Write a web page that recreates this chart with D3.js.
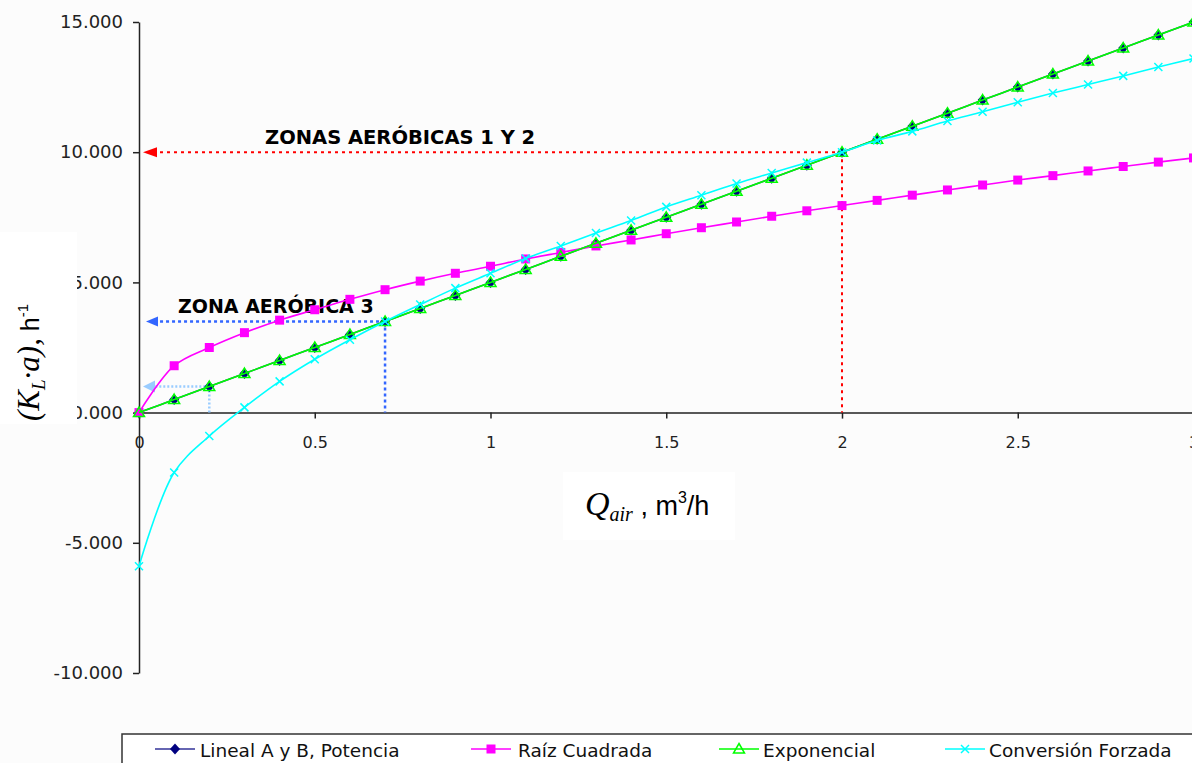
<!DOCTYPE html>
<html><head><meta charset="utf-8">
<script src="https://cdn.jsdelivr.net/npm/d3@7"></script>
<style>html,body{margin:0;padding:0;background:#fcfcfc;overflow:hidden}</style>
</head><body><svg id="c" width="1192" height="763"></svg>
<script>
// ---- data ----
const qAir = [0,0.1,0.2,0.3,0.4,0.5,0.6,0.7,0.8,0.9,1.0,1.1,1.2,1.3,1.4,1.5,1.6,1.7,1.8,1.9,2.0,2.1,2.2,2.3,2.4,2.5,2.6,2.7,2.8,2.9,3.0];
const lineal = [0,0.5,1,1.5,2,2.5,3,3.5,4,4.5,5,5.5,6,6.5,7,7.5,8,8.5,9,9.5,10,10.5,11,11.5,12,12.5,13,13.5,14,14.5,15];
const raiz = [0,1.8,2.5,3.07,3.55,3.95,4.35,4.72,5.05,5.35,5.62,5.9,6.15,6.4,6.63,6.87,7.1,7.32,7.54,7.75,7.95,8.15,8.35,8.55,8.74,8.93,9.1,9.28,9.45,9.62,9.78];
const exponencial = [0,0.5,1,1.5,2,2.5,3,3.5,4,4.5,5,5.5,6,6.5,7,7.5,8,8.5,9,9.5,10,10.5,11,11.5,12,12.5,13,13.5,14,14.5,15];
const conversion = [-5.9,-2.3,-0.9,0.2,1.2,2.05,2.8,3.5,4.15,4.78,5.35,5.92,6.4,6.9,7.38,7.9,8.35,8.8,9.2,9.6,10.0,10.45,10.8,11.2,11.55,11.92,12.27,12.6,12.93,13.27,13.6];
const yTicks = [-10,-5,0,5,10,15];
const yTickLabels = ["-10.000","-5.000","0.000","5.000","10.000","15.000"];
const xTicks = [0,0.5,1,1.5,2,2.5,3];
const xTickLabels = ["0","0.5","1","1.5","2","2.5","3"];
const seriesNames = ["Lineal A y B, Potencia","Raíz Cuadrada","Exponencial","Conversión Forzada"];
const zoneLabels = ["ZONAS AERÓBICAS 1 Y 2","ZONA AERÓBICA 3"];
const zoneX = [2, 0.7, 0.2];
const zoneY = [10, 3.5, 1.0];

// ---- setup ----
const svg = d3.select("#c");
const x = d3.scaleLinear().domain([0,3]).range([139,1193.5]);
const y = d3.scaleLinear().domain([-10,15]).range([673,22]);

// y axis
const yAxis = svg.append("g").attr("transform",`translate(${x(0)},0)`)
  .call(d3.axisLeft(y).tickValues(yTicks).tickFormat((d,i)=>yTickLabels[i]).tickSize(6).tickSizeOuter(0));
yAxis.select(".domain").attr("stroke","#222").attr("stroke-width",1.5);
yAxis.selectAll(".tick line").attr("stroke","#222").attr("stroke-width",1.5);
yAxis.selectAll(".tick text").attr("x",-16).attr("fill","#222")
  .style("font-family","DejaVu Sans").style("font-size","18px");

// x axis at y=0
const xAxis = svg.append("g").attr("transform",`translate(0,${y(0)})`)
  .call(d3.axisBottom(x).tickValues(xTicks).tickFormat((d,i)=>xTickLabels[i]).tickSize(6).tickSizeOuter(0));
xAxis.select(".domain").attr("stroke","#222").attr("stroke-width",1.5);
xAxis.selectAll(".tick line").attr("stroke","#222").attr("stroke-width",1.5);
xAxis.selectAll(".tick text").attr("y",24).attr("fill","#222")
  .style("font-family","DejaVu Sans").style("font-size","16px");

// y title box (covers part of tick labels as in the reference)
svg.append("rect").attr("x",0).attr("y",232).attr("width",77).attr("height",192).attr("fill","#ffffff");
const yt = svg.append("text").attr("transform","translate(39,421) rotate(-90)").attr("fill","#000");
yt.append("tspan").text("(K").style("font-family","Liberation Serif").style("font-style","italic").style("font-size","31px");
yt.append("tspan").text("L").attr("dy",6).style("font-family","Liberation Serif").style("font-style","italic").style("font-size","19px");
yt.append("tspan").text("·a),").attr("dy",-6).style("font-family","Liberation Serif").style("font-style","italic").style("font-size","31px");
yt.append("tspan").text(" h").style("font-family","Liberation Sans").style("font-size","25px");
yt.append("tspan").text("-1").attr("dy",-11).style("font-family","Liberation Sans").style("font-size","15px");

// x title
svg.append("rect").attr("x",563).attr("y",472).attr("width",172).attr("height",68).attr("fill","#ffffff");
const xt = svg.append("text").attr("x",585).attr("y",515).attr("fill","#000");
xt.append("tspan").text("Q").style("font-family","Liberation Serif").style("font-style","italic").style("font-size","34px");
xt.append("tspan").text("air").attr("dy",6).style("font-family","Liberation Serif").style("font-style","italic").style("font-size","20px");
xt.append("tspan").text(" , m").attr("dy",-6).style("font-family","Liberation Sans").style("font-size","27px");
xt.append("tspan").text("3").attr("dy",-12).style("font-family","Liberation Sans").style("font-size","16px");
xt.append("tspan").text("/h").attr("dy",12).style("font-family","Liberation Sans").style("font-size","27px");

// ---- zone annotations ----
const zoneColors = ["#ff0000","#3366ff","#99ccff"];
const zoneDash = ["3,4","3,3","2,2"];
const zoneWidth = [2,2.5,2.5];
const arrowLen = [14,12,12];
const arrowHalf = [5,5,6];
zoneX.forEach((zx,i)=>{
  const px = x(zx), py = y(zoneY[i]);
  const tip = x(0)+ (i===1?7:4);
  const g = svg.append("g");
  g.append("line").attr("x1",px).attr("y1",py).attr("x2",tip+arrowLen[i]-2).attr("y2",py)
    .attr("stroke",zoneColors[i]).attr("stroke-width",zoneWidth[i]).attr("stroke-dasharray",zoneDash[i]);
  g.append("line").attr("x1",px).attr("y1",py).attr("x2",px).attr("y2",y(0))
    .attr("stroke",zoneColors[i]).attr("stroke-width",zoneWidth[i]).attr("stroke-dasharray",zoneDash[i]);
  g.append("path").attr("d",`M${tip},${py}L${tip+arrowLen[i]},${py-arrowHalf[i]}L${tip+arrowLen[i]},${py+arrowHalf[i]}Z`)
    .attr("fill",zoneColors[i]);
});
svg.append("text").attr("x",265).attr("y",144).text(zoneLabels[0])
  .style("font-family","DejaVu Sans").style("font-weight","bold").style("font-size","19.5px");
svg.append("text").attr("x",178).attr("y",313).text(zoneLabels[1])
  .style("font-family","DejaVu Sans").style("font-weight","bold").style("font-size","19px");

// ---- series ----
const markers = {
  diamond: "M0,-5.5L5,0L0,5.5L-5,0Z",
  square: "M-4.5,-4.5H4.5V4.5H-4.5Z",
  triangle: "M0,-5.5L5.5,4L-5.5,4Z",
  cross: "M-4,-4L4,4M-4,4L4,-4"
};
const series = [
  {name:seriesNames[0], vals:lineal, line:"#333399", mk:"diamond", fill:"#000080", stroke:"none"},
  {name:seriesNames[1], vals:raiz, line:"#ff00ff", mk:"square", fill:"#ff00ff", stroke:"none"},
  {name:seriesNames[2], vals:exponencial, line:"#00ff00", mk:"triangle", fill:"none", stroke:"#00ff00"},
  {name:seriesNames[3], vals:conversion, line:"#00ffff", mk:"cross", fill:"none", stroke:"#00ffff"}
];
const lineGen = d3.line().x((d,i)=>x(qAir[i])).y(d=>y(d)).curve(d3.curveCatmullRom.alpha(0.5));
series.forEach(s=>{
  const g = svg.append("g");
  g.append("path").attr("d",lineGen(s.vals)).attr("fill","none").attr("stroke",s.line).attr("stroke-width",1.6);
  g.selectAll("path.m").data(s.vals).enter().append("path").attr("class","m")
    .attr("transform",(d,i)=>`translate(${x(qAir[i])},${y(d)})`)
    .attr("d",markers[s.mk]).attr("fill",s.fill).attr("stroke",s.stroke).attr("stroke-width",1.5);
});

// ---- legend ----
svg.append("rect").attr("x",122).attr("y",734).attr("width",1100).attr("height",40)
  .attr("fill","#ffffff").attr("stroke","#333").attr("stroke-width",1.5);
const legLine = [155, 471, 719, 945];
const legText = [200, 518, 763, 989];
series.forEach((s,i)=>{
  const lx = legLine[i], ly = 749;
  const w = 40;
  svg.append("line").attr("x1",lx).attr("y1",ly).attr("x2",lx+w).attr("y2",ly).attr("stroke",s.line).attr("stroke-width",1.6);
  svg.append("path").attr("transform",`translate(${lx+w/2},${ly})`).attr("d",markers[s.mk])
    .attr("fill",s.fill).attr("stroke",s.stroke).attr("stroke-width",1.5);
  svg.append("text").attr("x",legText[i]).attr("y",757).text(s.name).attr("fill","#111")
    .style("font-family","DejaVu Sans").style("font-size","18.5px");
});
</script>
</body></html>
